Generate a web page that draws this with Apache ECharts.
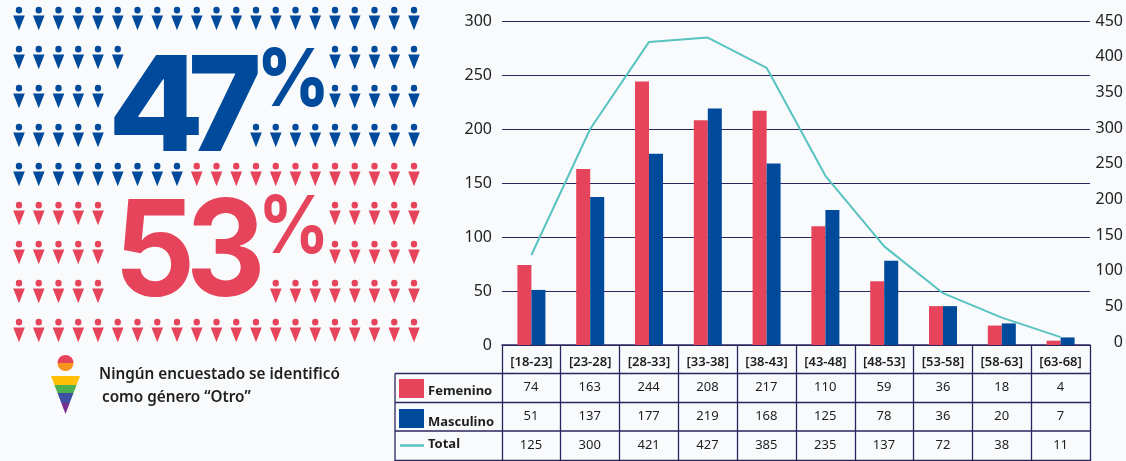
<!DOCTYPE html>
<html>
<head>
<meta charset="utf-8">
<style>html,body{margin:0;padding:0;background:#F8FAFC}#c{width:1126px;height:461px}</style>
<script src="https://cdn.jsdelivr.net/npm/echarts@6/dist/echarts.min.js"></script>
</head>
<body>
<div id="c"></div>
<script>
const categories = ['[18-23]','[23-28]','[28-33]','[33-38]','[38-43]','[43-48]','[48-53]','[53-58]','[58-63]','[63-68]'];
const femenino = [74,163,244,208,217,110,59,36,18,4];
const masculino = [51,137,177,219,168,125,78,36,20,7];
const total = [125,300,421,427,385,235,137,72,38,11];
const tableRows = [['Femenino',femenino],['Masculino',masculino],['Total',total]];
// pictogram: [row, firstColumn, lastColumn]
const bluePeople = [[0,0,20],[1,0,5],[1,16,20],[2,0,4],[2,16,20],[3,0,4],[3,12,20],[4,0,8]];
const redPeople = [[4,9,20],[5,0,4],[5,16,20],[6,0,4],[6,16,20],[7,0,4],[7,13,20],[8,0,20]];

const NAVY='#2D2560', RED='#E6445A', BLUE='#004A9C', TEAL='#58C3C0', INK='#1E1E1E';
const BODY='"Noto Sans"';
const person='path://M6 0A3.3 3.3 0 1 1 5.99 0ZM0 8.6H12L6 23.3Z';
const expand=l=>{const o=[];l.forEach(([r,a,b])=>{for(let c=a;c<=b;c++)o.push([c,r]);});return o;};

const L=501.5,R=1090,colW=(R-L)/categories.length;
const rowY=[345,373.5,402.5,431,460.5];
const cellY=[387.5,416.5,445];
const g=[];
const line=(x1,y1,x2,y2,w)=>g.push({type:'line',shape:{x1,y1,x2,y2},style:{stroke:NAVY,lineWidth:w||1},silent:true});
for(let i=0;i<=categories.length;i++){const x=Math.round(L+colW*i)+.5;line(x,rowY[0],x,461,1.3);}
line(395,rowY[1],395,461,1.3);
rowY.slice(1).forEach(y=>line(395,y,R+.5,y,1.3));
line(L,rowY[0],R+.5,rowY[0],1.3);
tableRows.forEach(([name,vals],r)=>{
  vals.forEach((v,i)=>g.push({type:'text',x:L+colW*(i+.5),y:cellY[r],style:{text:String(v),font:'13px '+BODY,fill:INK,align:'center',verticalAlign:'middle'}}));
});
g.push({type:'rect',shape:{x:399,y:379,width:25,height:19},style:{fill:RED}});
g.push({type:'rect',shape:{x:399,y:409,width:25,height:19},style:{fill:BLUE}});
g.push({type:'line',shape:{x1:400,y1:445.5,x2:424,y2:445.5},style:{stroke:TEAL,lineWidth:2.5}});
[['Femenino',391],['Masculino',422],['Total',444]].forEach(([t,y])=>g.push({type:'text',x:428,y,style:{text:t,font:'bold 13px '+BODY,fill:INK,verticalAlign:'middle'}}));

// big numbers
const big=(t,x,y,size,weight,fill,scaleX)=>g.push({type:'text',x,y,scaleX:scaleX||1,style:{text:t,font:weight+' '+size+'px Inter',fill,verticalAlign:'top'}});
big('4',108,45,132,800,BLUE,1.06);
big('7',188,45,132,800,BLUE,0.95);
big('%',257,42,80,800,BLUE,0.88);
big('5',114,189,134,700,RED,0.95);
big('3',186,189,134,700,RED,0.92);
big('%',258,189,80,700,RED,0.88);

// rainbow person
g.push({type:'circle',shape:{cx:65.5,cy:363,r:8},style:{fill:{type:'linear',x:0,y:0,x2:0,y2:1,colorStops:[{offset:0,color:RED},{offset:.5,color:RED},{offset:.5,color:'#F7941D'},{offset:1,color:'#F7941D'}]}}});
g.push({type:'polygon',shape:{points:[[51,376],[80,376],[65.5,414]]},style:{fill:{type:'linear',x:0,y:0,x2:0,y2:1,colorStops:[
 {offset:0,color:'#FFC107'},{offset:.24,color:'#FFC107'},{offset:.24,color:'#4CAF50'},{offset:.46,color:'#4CAF50'},
 {offset:.46,color:'#3F51A5'},{offset:.71,color:'#3F51A5'},{offset:.71,color:'#7B2D8E'},{offset:1,color:'#7B2D8E'}]}}});
g.push({type:'text',x:99,y:375,style:{text:'Ningún encuestado se identificó',font:'600 15.3px '+BODY,fill:INK,verticalAlign:'middle'}});
g.push({type:'text',x:102,y:398,style:{text:'como género “Otro”',font:'600 15.3px '+BODY,fill:INK,verticalAlign:'middle'}});

const axisLab={fontFamily:BODY,fontSize:16,color:'#222'};
const chart=echarts.init(document.getElementById('c'),null,{renderer:'canvas'});
chart.setOption({
  animation:false,
  backgroundColor:'#F8FAFC',
  grid:[
    {left:502,right:36,top:21,height:324},
    {left:19,top:18.5,width:395,height:312},
    {left:502,right:36,top:21,height:321}
  ],
  xAxis:[
    {type:'category',gridIndex:0,data:categories,axisTick:{show:false},axisLine:{show:false},
     axisLabel:{interval:0,margin:11,fontFamily:BODY,fontSize:13,fontWeight:600,color:INK}},
    {type:'value',gridIndex:1,min:0,max:20,show:false},
    {type:'value',gridIndex:2,min:0,max:1,show:false}
  ],
  yAxis:[
    {type:'value',gridIndex:0,min:0,max:300,interval:50,axisLine:{show:false},axisTick:{show:false},
     axisLabel:Object.assign({margin:10},axisLab),splitLine:{lineStyle:{color:NAVY,width:1}}},
    {type:'value',gridIndex:0,position:'right',min:0,max:450,interval:50,axisLine:{show:false},axisTick:{show:false},
     axisLabel:{show:false},splitLine:{show:false}},
    {type:'value',gridIndex:1,min:0,max:8,inverse:true,show:false},
    {type:'value',gridIndex:2,position:'right',min:0,max:450,interval:50,axisLine:{show:false},axisTick:{show:false},
     axisLabel:Object.assign({margin:36,align:'right'},axisLab),splitLine:{show:false}}
  ],
  series:[
    {name:'Femenino',type:'bar',xAxisIndex:0,yAxisIndex:0,data:femenino,barWidth:14,barGap:0,itemStyle:{color:RED}},
    {name:'Masculino',type:'bar',xAxisIndex:0,yAxisIndex:0,data:masculino,barWidth:14,barGap:0,itemStyle:{color:BLUE}},
    {name:'Total',type:'line',xAxisIndex:0,yAxisIndex:1,data:total,symbol:'none',smooth:false,lineStyle:{color:TEAL,width:2},z:5},
    {name:'Personas azul',type:'scatter',xAxisIndex:1,yAxisIndex:2,data:expand(bluePeople),symbol:person,symbolSize:[11.6,23.3],itemStyle:{color:BLUE,opacity:1}},
    {name:'Personas rojo',type:'scatter',xAxisIndex:1,yAxisIndex:2,data:expand(redPeople),symbol:person,symbolSize:[11.6,23.3],itemStyle:{color:RED,opacity:1}}
  ],
  graphic:{elements:g}
});
</script>
</body>
</html>
